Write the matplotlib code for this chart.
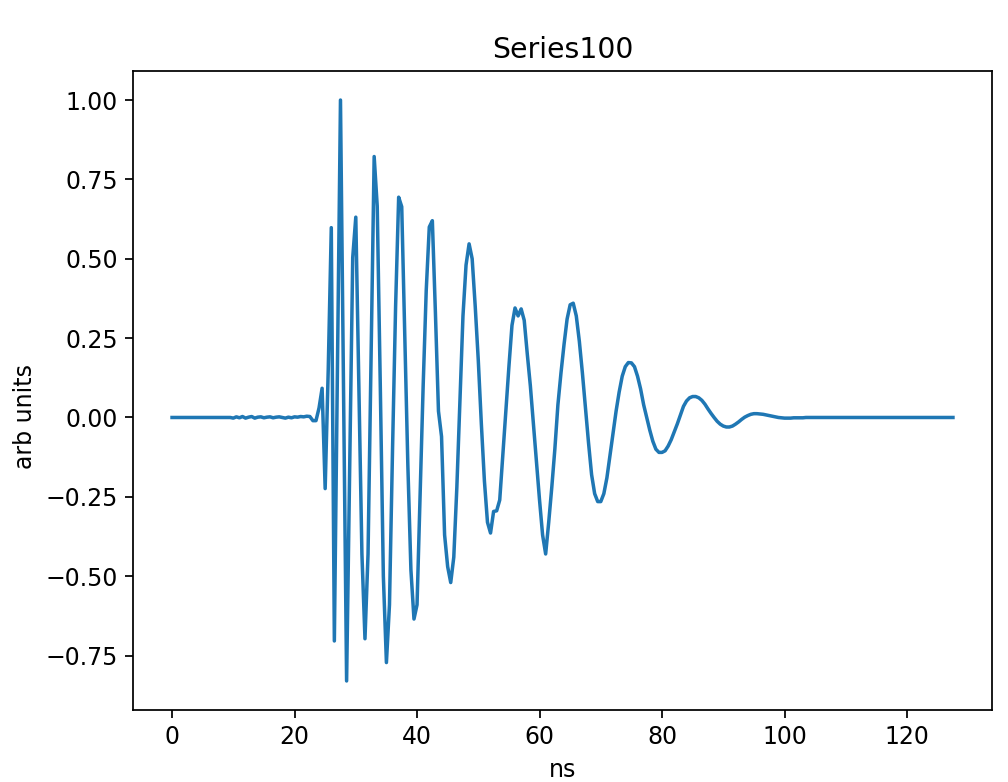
import numpy as np
import matplotlib
matplotlib.use("Agg")
import matplotlib.pyplot as plt

# sampled every 0.5 ns, 256 samples
sample_step_ns = 0.5

# 0.0 - 9.5 ns : flat
lead = [0.0, 0.0, 0.0, 0.0, 0.0, 0.0, 0.0, 0.0, 0.0, 0.0,
        0.0, 0.0, 0.0, 0.0, 0.0, 0.0, 0.0, 0.0, 0.0, 0.0]

# 10.0 - 22.5 ns : small noise before the arrival
noise = [-0.002, 0.002, -0.001, 0.003, -0.002, 0.001, 0.003, -0.002, 0.001, 0.002,
         -0.001, 0.001, 0.002, -0.001, 0.001, 0.002, 0.000, -0.002, 0.001, -0.001,
         0.002, 0.001, 0.003, 0.002, 0.004, 0.003]

# 23.0 - 72.0 ns : main burst
burst = [-0.010, -0.010, 0.030, 0.092, -0.224, 0.150, 0.598, -0.704, 0.150, 1.000,
         0.080, -0.830, -0.170, 0.504, 0.631, 0.100, -0.430, -0.697, -0.430, 0.200,
         0.822, 0.666, 0.100, -0.500, -0.772, -0.590, -0.100, 0.350, 0.694, 0.664,
         0.250, -0.150, -0.480, -0.635, -0.590, -0.250, 0.100, 0.400, 0.600, 0.620,
         0.330, 0.020, -0.060, -0.370, -0.470, -0.520, -0.440, -0.220, 0.050, 0.320,
         0.480, 0.547, 0.500, 0.350, 0.180, -0.020, -0.200, -0.330, -0.364, -0.296,
         -0.294, -0.260, -0.120, 0.020, 0.160, 0.290, 0.345, 0.320, 0.342, 0.306,
         0.200, 0.100, -0.020, -0.140, -0.260, -0.370, -0.430, -0.330, -0.220, -0.100,
         0.040, 0.140, 0.230, 0.310, 0.355, 0.360, 0.320, 0.240, 0.140, 0.030,
         -0.080, -0.180, -0.240, -0.265, -0.265, -0.240, -0.190, -0.120, -0.050]

# 72.5 - 101.0 ns : ring-down
tail = [0.020, 0.080, 0.130, 0.160, 0.173, 0.172, 0.160, 0.130, 0.090, 0.040,
        0.000, -0.040, -0.075, -0.100, -0.110, -0.110, -0.105, -0.090, -0.070, -0.045,
        -0.020, 0.008, 0.035, 0.052, 0.062, 0.066, 0.066, 0.062, 0.054, 0.042,
        0.027, 0.013, 0.000, -0.012, -0.021, -0.027, -0.030, -0.030, -0.027, -0.021,
        -0.014, -0.006, 0.001, 0.006, 0.010, 0.012, 0.012, 0.011, 0.010, 0.008,
        0.006, 0.004, 0.002, 0.000, -0.001, -0.002, -0.002, -0.002]

# 101.5 - 127.5 ns : flat
flat = [-0.001, -0.001, -0.001, -0.001, 0.0, 0.0, 0.0, 0.0, 0.0, 0.0,
        0.0, 0.0, 0.0, 0.0, 0.0, 0.0, 0.0, 0.0, 0.0, 0.0,
        0.0, 0.0, 0.0, 0.0, 0.0, 0.0, 0.0, 0.0, 0.0, 0.0,
        0.0, 0.0, 0.0, 0.0, 0.0, 0.0, 0.0, 0.0, 0.0, 0.0,
        0.0, 0.0, 0.0, 0.0, 0.0, 0.0, 0.0, 0.0, 0.0, 0.0,
        0.0, 0.0, 0.0]

amplitude = np.array(lead + noise + burst + tail + flat)
time_ns = np.arange(len(amplitude)) * sample_step_ns

plt.rcParams["font.size"] = 10.8

fig = plt.figure(figsize=(6.4, 782 / 157.5), dpi=157.5)
ax = fig.add_axes([133 / 1008, 1 - 710 / 782, 859 / 1008, 639 / 782])
ax.plot(time_ns, amplitude, linewidth=1.6)

ax.set_title("Series100")
ax.set_xlabel("ns")
ax.set_ylabel("arb units", y=0.459)

fig.savefig("out.png", dpi=157.5)
